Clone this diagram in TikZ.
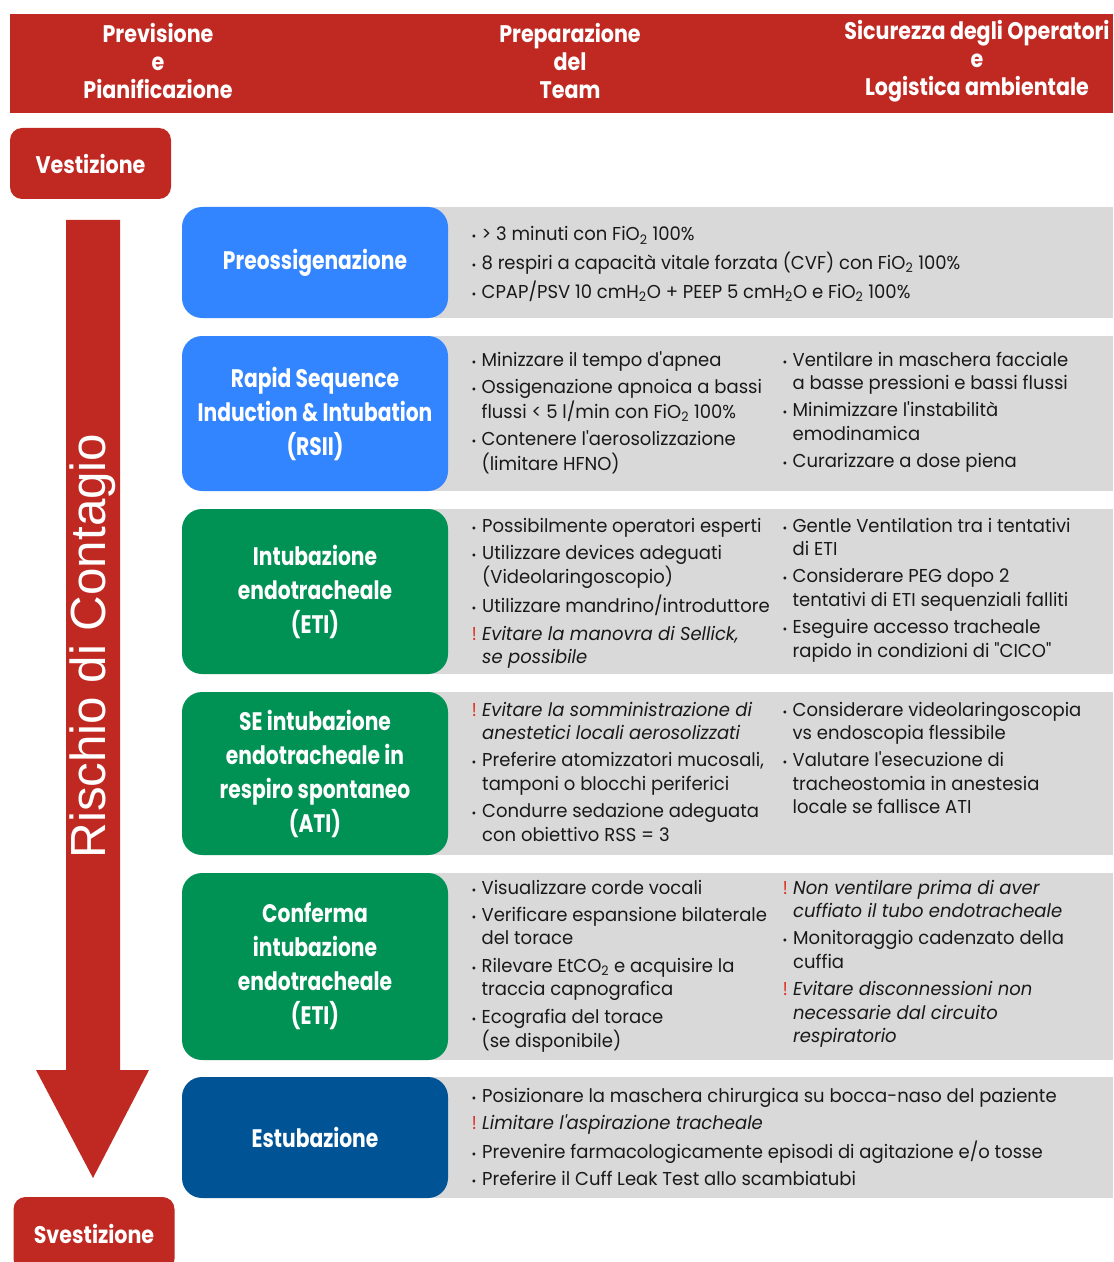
\documentclass[tikz,border=0pt]{standalone}
\usepackage{fontspec}
\setmainfont{Poppins}
\newfontfamily\hdfont[FakeStretch=0.86]{Poppins}
\newfontfamily\ttlfont[FakeStretch=0.8]{Poppins}
\newfontfamily\bodyfont[FakeStretch=0.965]{Poppins}
\newfontfamily\riskfont{Liberation Sans}

\definecolor{hdred}{RGB}{192,40,34}
\definecolor{boxblue}{RGB}{51,133,255}
\definecolor{boxgreen}{RGB}{0,146,84}
\definecolor{boxnavy}{RGB}{0,84,150}
\definecolor{bandgray}{RGB}{217,217,217}
\definecolor{warnred}{RGB}{222,52,40}
\definecolor{bodyblack}{RGB}{25,25,25}

\newcommand{\bul}{{\small\textbullet}}
\newcommand{\wrn}{\textcolor{warnred}{!}}

\tikzset{every picture/.style={line width=0.75pt}}
\tikzset{
  hdtxt/.style={text=white, align=center, inner sep=0.75pt,
    font=\hdfont\bfseries\fontsize{18}{21}\selectfont},
  phasebox/.style={fill=hdred, rounded corners=9pt, text=white, inner sep=0pt,
    minimum width=120.75pt, font=\hdfont\bfseries\fontsize{18}{21}\selectfont},
  titlebox/.style={rounded corners=15pt, minimum width=199.5pt, inner sep=0pt,
    text=white, align=center, font=\ttlfont\bfseries\fontsize{19}{25.5}\selectfont},
  bodytxt/.style={anchor=base west, inner sep=0pt, text=bodyblack,
    font=\bodyfont\fontsize{14}{17.6}\selectfont}
}

\begin{document}
\begin{tikzpicture}[x=0.75pt,y=0.75pt,yscale=-1,xscale=1]
\useasboundingbox (0,0) rectangle (1113,1262);

%Shape: Header band
\fill [hdred] (10,14) rectangle (1113,113);
% Text Node
\draw (158,61) node (hdplan) [hdtxt] {Previsione\\e\\Pianificazione};
% Text Node
\draw (570,61) node (hdteam) [hdtxt] {Preparazione\\del\\Team};
% Text Node
\draw (977,61) node (hdsafe) [hdtxt] {Sicurezza degli Operatori\\e\\Logistica ambientale};

%Shape: Vestizione / Svestizione
\draw (90.5,163.5) node (vest) [phasebox, minimum height=53.25pt] {Vestizione};
\draw (94,1234) node (svest) [phasebox, minimum height=55.5pt] {Svestizione};

%Shape: Big arrow
\fill [hdred] (66,220) -- (120,220) -- (120,1070) -- (149,1070) -- (93,1178) -- (36,1070) -- (66,1070) -- cycle;
% Text Node
\draw (93,646) node (risk) [rotate=90, text=white, inner sep=0pt,
  font=\riskfont\fontsize{37}{40}\selectfont] {Rischio di Contagio};

%Shape: Gray bands
\fill [bandgray] (430,207) rectangle (1113,318);
\fill [bandgray] (430,336) rectangle (1113,491);
\fill [bandgray] (430,509) rectangle (1113,674);
\fill [bandgray] (430,692) rectangle (1113,855);
\fill [bandgray] (430,873) rectangle (1113,1060);
\fill [bandgray] (430,1077) rectangle (1113,1198);

%Shape: Title boxes
\draw (315,262.5) node (preox) [titlebox, fill=boxblue, minimum height=83.25pt] {Preossigenazione};
\draw (315,413.5) node (rsii) [titlebox, fill=boxblue, minimum height=116.25pt] {Rapid Sequence\\Induction \& Intubation\\(RSII)};
\draw (315,591.5) node (eti) [titlebox, fill=boxgreen, minimum height=123.75pt] {Intubazione\\endotracheale\\(ETI)};
\draw (315,773.5) node (ati) [titlebox, fill=boxgreen, minimum height=122.25pt] {SE intubazione\\endotracheale in\\respiro spontaneo\\(ATI)};
\draw (315,966.5) node (conf) [titlebox, fill=boxgreen, minimum height=140.25pt] {Conferma\\intubazione\\endotracheale\\(ETI)};
\draw (315,1137.5) node (estub) [titlebox, fill=boxnavy, minimum height=90.75pt] {Estubazione};

% Text Node
\draw (471,241) node (preoxtxt) [bodytxt] {\begin{tabular}[t]{@{}l@{\hspace{4pt}}l@{}}
\bul & > 3 minuti con FiO\textsubscript{2} 100\% \\[3pt]
\bul & 8 respiri a capacità vitale forzata (CVF) con FiO\textsubscript{2} 100\% \\[3pt]
\bul & CPAP/PSV 10 cmH\textsubscript{2}O + PEEP 5 cmH\textsubscript{2}O e FiO\textsubscript{2} 100\%
\end{tabular}};

% Text Node
\draw (471,366) node (rsiileft) [bodytxt] {\begin{tabular}[t]{@{}l@{\hspace{4pt}}l@{}}
\bul & Minizzare il tempo d'apnea \\[3pt]
\bul & Ossigenazione apnoica a bassi \\
 & flussi < 5 l/min con FiO\textsubscript{2} 100\% \\[3pt]
\bul & Contenere l'aerosolizzazione \\
 & (limitare HFNO)
\end{tabular}};
% Text Node
\draw (782,366) node (rsiiright) [bodytxt] {\begin{tabular}[t]{@{}l@{\hspace{4pt}}l@{}}
\bul & Ventilare in maschera facciale \\
 & a basse pressioni e bassi flussi \\[3pt]
\bul & Minimizzare l'instabilità \\
 & emodinamica \\[3pt]
\bul & Curarizzare a dose piena
\end{tabular}};

% Text Node
\draw (471,532) node (etileft) [bodytxt] {\begin{tabular}[t]{@{}l@{\hspace{4pt}}l@{}}
\bul & Possibilmente operatori esperti \\[3pt]
\bul & Utilizzare devices adeguati \\
 & (Videolaringoscopio) \\[3pt]
\bul & Utilizzare mandrino/introduttore \\[3pt]
\wrn & \textit{Evitare la manovra di Sellick,} \\
 & \textit{se possibile}
\end{tabular}};
% Text Node
\draw (782,532) node (etiright) [bodytxt] {\begin{tabular}[t]{@{}l@{\hspace{4pt}}l@{}}
\bul & Gentle Ventilation tra i tentativi \\
 & di ETI \\[3pt]
\bul & Considerare PEG dopo 2 \\
 & tentativi di ETI sequenziali falliti \\[3pt]
\bul & Eseguire accesso tracheale \\
 & rapido in condizioni di "CICO"
\end{tabular}};

% Text Node
\draw (471,716) node (atileft) [bodytxt] {\begin{tabular}[t]{@{}l@{\hspace{4pt}}l@{}}
\wrn & \textit{Evitare la somministrazione di} \\
 & \textit{anestetici locali aerosolizzati} \\[3pt]
\bul & Preferire atomizzatori mucosali, \\
 & tamponi o blocchi periferici \\[3pt]
\bul & Condurre sedazione adeguata \\
 & con obiettivo RSS = 3
\end{tabular}};
% Text Node
\draw (782,716) node (atiright) [bodytxt] {\begin{tabular}[t]{@{}l@{\hspace{4pt}}l@{}}
\bul & Considerare videolaringoscopia \\
 & vs endoscopia flessibile \\[3pt]
\bul & Valutare l'esecuzione di \\
 & tracheostomia in anestesia \\
 & locale se fallisce ATI
\end{tabular}};

% Text Node
\draw (471,894) node (confleft) [bodytxt] {\begin{tabular}[t]{@{}l@{\hspace{4pt}}l@{}}
\bul & Visualizzare corde vocali \\[3pt]
\bul & Verificare espansione bilaterale \\
 & del torace \\[3pt]
\bul & Rilevare EtCO\textsubscript{2} e acquisire la \\
 & traccia capnografica \\[3pt]
\bul & Ecografia del torace \\
 & (se disponibile)
\end{tabular}};
% Text Node
\draw (782,894) node (confright) [bodytxt] {\begin{tabular}[t]{@{}l@{\hspace{4pt}}l@{}}
\wrn & \textit{Non ventilare prima di aver} \\
 & \textit{cuffiato il tubo endotracheale} \\[3pt]
\bul & Monitoraggio cadenzato della \\
 & cuffia \\[3pt]
\wrn & \textit{Evitare disconnessioni non} \\
 & \textit{necessarie dal circuito} \\
 & \textit{respiratorio}
\end{tabular}};

% Text Node
\draw (471,1102) node (estubtxt) [bodytxt] {\begin{tabular}[t]{@{}l@{\hspace{4pt}}l@{}}
\bul & Posizionare la maschera chirurgica su bocca-naso del paziente \\[3pt]
\wrn & \textit{Limitare l'aspirazione tracheale} \\[3pt]
\bul & Prevenire farmacologicamente episodi di agitazione e/o tosse \\[3pt]
\bul & Preferire il Cuff Leak Test allo scambiatubi
\end{tabular}};

\end{tikzpicture}
\end{document}
